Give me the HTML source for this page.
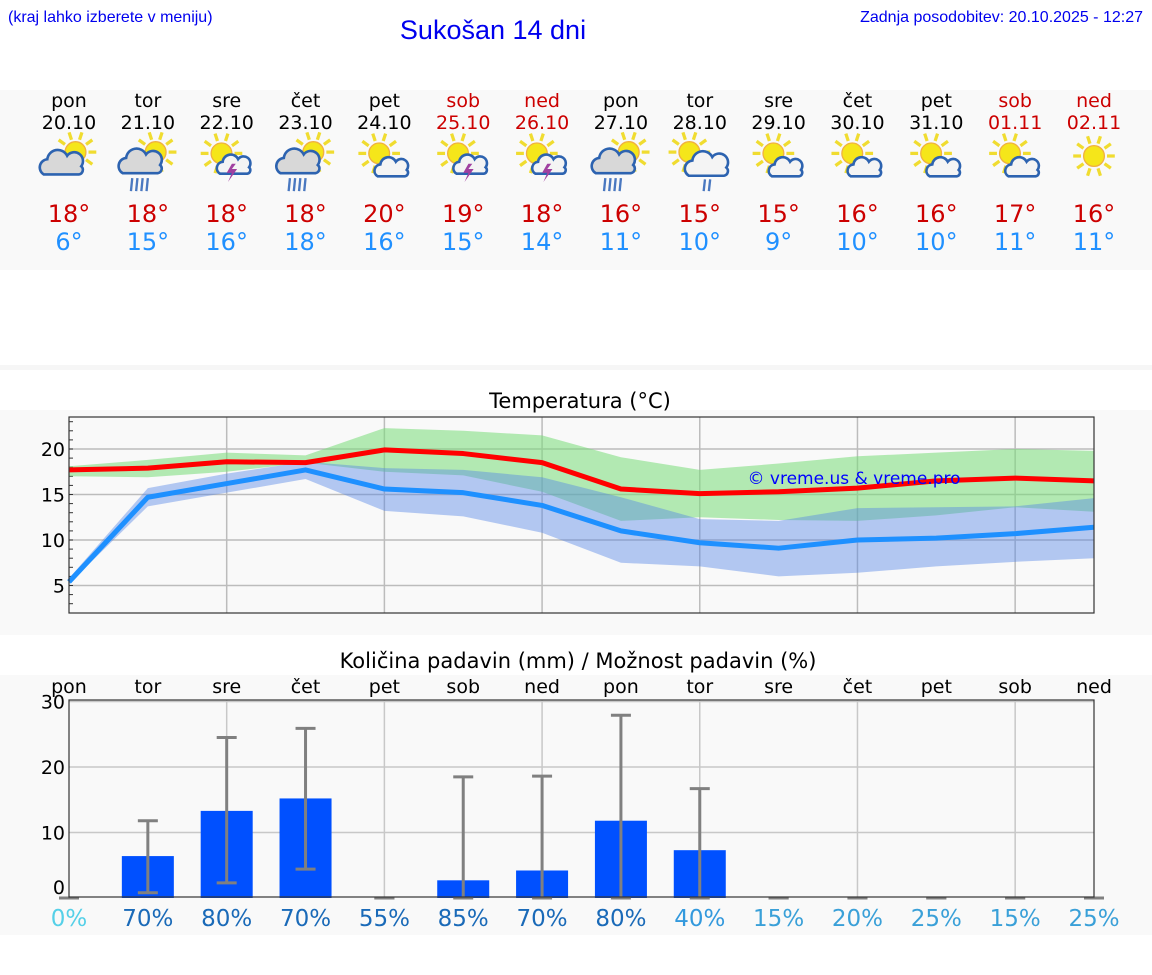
<!DOCTYPE html>
<html><head><meta charset="utf-8">
<style>
html,body{margin:0;padding:0;background:#fff;}
svg{display:block;}
text{font-family:"DejaVu Sans","Liberation Sans",sans-serif;}
.hdr{font-family:"Liberation Sans",sans-serif;}
</style></head>
<body>
<svg id="s" width="1152" height="975" xmlns="http://www.w3.org/2000/svg">
<text class="hdr" x="8" y="22" font-size="16" fill="#0000ee">(kraj lahko izberete v meniju)</text>
<text class="hdr" x="493" y="39" font-size="27" fill="#0000ee" text-anchor="middle">Sukošan 14 dni</text>
<text class="hdr" x="1143" y="22" font-size="16" fill="#0000ee" text-anchor="end">Zadnja posodobitev: 20.10.2025 - 12:27</text>
<rect x="0" y="90" width="1152" height="180" fill="#f9f9f9"/>
<rect x="0" y="365" width="1152" height="5" fill="#f6f6f6"/>
<rect x="0" y="410" width="1152" height="225" fill="#f9f9f9"/>
<rect x="0" y="675" width="1152" height="260" fill="#f9f9f9"/>
<text x="580" y="408" font-size="21" text-anchor="middle" fill="#000">Temperatura (°C)</text>
<text x="578" y="668" font-size="21" text-anchor="middle" fill="#000">Količina padavin (mm) / Možnost padavin (%)</text>
<g id="days"></g>
<g id="temp"></g>
<g id="precip"></g>
</svg>
<script>
const dayNames=["pon","tor","sre","čet","pet","sob","ned","pon","tor","sre","čet","pet","sob","ned"];
const dates=["20.10","21.10","22.10","23.10","24.10","25.10","26.10","27.10","28.10","29.10","30.10","31.10","01.11","02.11"];
const hiTemp=[18,18,18,18,20,19,18,16,15,15,16,16,17,16];
const loTemp=[6,15,16,18,16,15,14,11,10,9,10,10,11,11];
const icons=["pc","rain","ts","rain","sc","ts","ts","rain","drz","sc","sc","sc","sc","sun"];
const maxLine=[17.7,17.9,18.6,18.5,19.9,19.5,18.5,15.6,15.1,15.3,15.7,16.5,16.8,16.5];
const minLine=[5.4,14.7,16.2,17.7,15.6,15.2,13.8,11.0,9.7,9.1,10.0,10.2,10.7,11.4];
const maxHi=[18.1,18.8,19.6,19.3,22.3,22.0,21.5,19.1,17.7,18.4,19.2,19.6,20.0,19.8];
const maxLo=[17.0,16.9,17.5,18.5,17.5,17.1,15.3,12.1,12.5,12.2,12.1,12.7,13.6,13.1];
const minHi=[5.8,15.7,17.3,18.6,17.9,17.7,16.9,14.7,12.3,12.1,13.5,13.6,13.7,14.6];
const minLo=[5.2,13.7,15.2,16.7,13.2,12.6,10.8,7.5,7.1,6.0,6.4,7.1,7.6,8.0];
const tempTicks=[5,10,15,20];
const precip=[0,6.4,13.3,15.2,0,2.7,4.2,11.8,7.3,0,0,0,0,0];
const precipHi=[0,11.8,24.5,25.9,0,18.5,18.6,27.9,16.7,0,0,0,0,0];
const precipLo=[0,0.8,2.3,4.4,0,0,0,0,0,0,0,0,0,0];
const chance=[0,70,80,70,55,85,70,80,40,15,20,25,15,25];
const precipTicks=[0,10,20,30];

const NS="http://www.w3.org/2000/svg";
function mk(tag,attrs,parent){const e=document.createElementNS(NS,tag);for(const k in attrs)e.setAttribute(k,attrs[k]);parent.appendChild(e);return e;}
const X0=69,X1=1094;
function xs(i){return X0+(X1-X0)*i/(dayNames.length-1);}
function ty(t){return 449+(20-t)*9.1;}
function py(v){return 898-v*6.55;}
const wk=i=>(i===5||i===6||i===12||i===13);

const dg=document.getElementById('days');
function sun(g,cx,cy,r){
  for(let k=0;k<10;k++){const a=k*Math.PI/5;mk('line',{x1:cx+Math.cos(a)*(r+2),y1:cy+Math.sin(a)*(r+2),x2:cx+Math.cos(a)*(r+8),y2:cy+Math.sin(a)*(r+8),stroke:'#f0dc30','stroke-width':2.5},g);}
  mk('circle',{cx:cx,cy:cy,r:r,fill:'#f5e61a',stroke:'#f0b040','stroke-width':1},g);
}
function cloud(g,cx,cy,s,fill){
  const p=`M${cx-16*s},${cy+8*s} a${7*s},${7*s} 0 0 1 ${3*s},${-13*s} a${9*s},${9*s} 0 0 1 ${17*s},${-3*s} a${7*s},${7*s} 0 0 1 ${12*s},${9*s} a${4*s},${4*s} 0 0 1 ${-2*s},${7*s} z`;
  mk('path',{d:p,fill:fill,stroke:'#2d63b0','stroke-width':2},g);
}
dayNames.forEach((d,i)=>{
  const x=xs(i);
  const g=mk('g',{},dg);
  
  
  const col=wk(i)?'#cc0000':'#000';
  const t1=mk('text',{x:x,y:107,'font-size':19,'text-anchor':'middle',fill:col},g);t1.textContent=d;
  const t2=mk('text',{x:x,y:129,'font-size':19,'text-anchor':'middle',fill:col},g);t2.textContent=dates[i];
  const ty0=156;
  const ic=mk('g',{transform:`translate(${x},${ty0}) scale(1.3) translate(${-x},${-ty0})`},g);
  
  
  const t=icons[i];
  if(t==='sun'){sun(ic,x,ty0,8);}
  else if(t==='pc'){sun(ic,x+5,ty0-3,8);cloud(ic,x-5,ty0+7,0.9,'#d8d8d8');}
  else if(t==='rain'){sun(ic,x+6,ty0-3,8);cloud(ic,x-5,ty0+6,0.9,'#d8d8d8');for(let k=0;k<4;k++)mk('line',{x1:x-12+k*4,y1:ty0+17,x2:x-13+k*4,y2:ty0+27,stroke:'#4a78c0','stroke-width':1.8},ic);}
  else if(t==='ts'){sun(ic,x-4,ty0-2,8);cloud(ic,x+6,ty0+8,0.7,'#f4f4f4');mk('path',{d:`M${x+4},${ty0+6} l-4,7 h4 l-3,7 l7,-10 h-4 l3,-4 z`,fill:'#a040a0'},ic);}
  else if(t==='sc'){sun(ic,x-4,ty0-2,8);cloud(ic,x+6,ty0+10,0.7,'#f4f4f4');}
  else if(t==='drz'){sun(ic,x-8,ty0-3,8);cloud(ic,x+6,ty0+8,0.9,'#f4f4f4');for(let k=0;k<2;k++)mk('line',{x1:x+4+k*4,y1:ty0+18,x2:x+3+k*4,y2:ty0+27,stroke:'#4a78c0','stroke-width':1.8},ic);}
  const t3=mk('text',{x:x,y:222,'font-size':24,'text-anchor':'middle',fill:'#cc0000'},g);t3.textContent=hiTemp[i]+'°';
  const t4=mk('text',{x:x,y:250,'font-size':24,'text-anchor':'middle',fill:'#2090ff'},g);t4.textContent=loTemp[i]+'°';
});

const tg=document.getElementById('temp');
mk('rect',{x:X0,y:417,width:X1-X0,height:196,fill:'#f9f9f9'},tg);
tempTicks.forEach(v=>{
  const l=mk('line',{x1:X0,x2:X1,y1:ty(v),y2:ty(v),stroke:'#bcbcbc','stroke-width':1.5},tg);
  
  const t=mk('text',{x:X0-4,y:ty(v)+7,'font-size':19,'text-anchor':'end',fill:'#000'},tg);t.textContent=v;
  
});
for(let v=3;v<=23;v++){mk('line',{x1:X0,x2:X0+4,y1:ty(v),y2:ty(v),stroke:'#333','stroke-width':1},tg);}
for(let i=2;i<13;i+=2){mk('line',{x1:xs(i),x2:xs(i),y1:417,y2:613,stroke:'#bcbcbc','stroke-width':1.5},tg);}
function band(hi,lo,fill,name){
  let d='M'+hi.map((v,i)=>xs(i)+','+ty(v)).join(' L')+' L'+lo.map((v,i)=>xs(i)+','+ty(v)).reverse().join(' L')+' Z';
  const p=mk('path',{d:d,fill:fill},tg);
  
}
band(maxHi,maxLo,'rgba(120,220,120,0.55)','max-temp-range');
band(minHi,minLo,'rgba(80,130,230,0.42)','min-temp-range');
function line(arr,col,name){
  const p=mk('polyline',{points:arr.map((v,i)=>xs(i)+','+ty(v)).join(' '),fill:'none',stroke:col,'stroke-width':5,'stroke-linejoin':'round'},tg);
  
}
line(minLine,'#1e90ff','min-temp-line');
line(maxLine,'#ff0000','max-temp-line');
const wm=mk('text',{x:854,y:484,'font-size':17,'text-anchor':'middle',fill:'#0000ff'},tg);wm.textContent='© vreme.us & vreme.pro';

mk('rect',{x:X0,y:417,width:X1-X0,height:196,fill:'none',stroke:'#333','stroke-width':1.2},tg);

const pg=document.getElementById('precip');
mk('rect',{x:X0,y:700,width:X1-X0,height:197,fill:'#f9f9f9'},pg);
precipTicks.forEach(v=>{
  if(v>0){const l=mk('line',{x1:X0,x2:X1,y1:py(v),y2:py(v),stroke:'#c8c8c8','stroke-width':1.5},pg);
  }
  const t=mk('text',{x:X0-4,y:(v===0?py(v)-4:py(v)+7),'font-size':19,'text-anchor':'end',fill:'#000'},pg);t.textContent=v;
  
});
for(let i=2;i<13;i+=2){mk('line',{x1:xs(i),x2:xs(i),y1:700,y2:897,stroke:'#c8c8c8','stroke-width':1.5},pg);}
function chanceCol(c){if(c===0)return '#55d0e8';if(c>=55)return '#1a6ab8';if(c>=40)return '#3399dd';return '#3aa0d8';}
dayNames.forEach((d,i)=>{
  const x=xs(i);
  const t=mk('text',{x:x,y:693,'font-size':19,'text-anchor':'middle',fill:'#000'},pg);t.textContent=d;
  
  if(precip[i]>0){const b=mk('rect',{x:x-26,y:py(precip[i]),width:52,height:py(0)-py(precip[i]),fill:'#0050ff'},pg);
    }
  const eg=mk('g',{stroke:'#808080','stroke-width':3},pg);
  
  mk('line',{x1:x,x2:x,y1:py(precipHi[i]),y2:py(precipLo[i])},eg);
  mk('line',{x1:x-10,x2:x+10,y1:py(precipHi[i]),y2:py(precipHi[i])},eg);
  mk('line',{x1:x-10,x2:x+10,y1:py(precipLo[i]),y2:py(precipLo[i])},eg);
  const c=mk('text',{x:x,y:926,'font-size':23,'text-anchor':'middle',fill:chanceCol(chance[i])},pg);c.textContent=chance[i]+'%';
  
});
mk('rect',{x:X0,y:700,width:X1-X0,height:197,fill:'none',stroke:'#333','stroke-width':1.2},pg);
</script>
</body></html>
